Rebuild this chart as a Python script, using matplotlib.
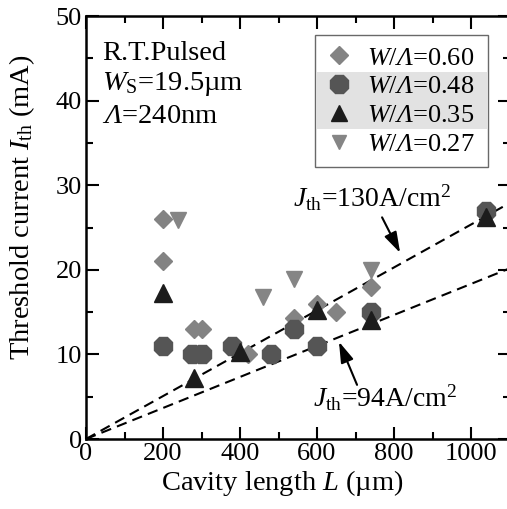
import matplotlib
matplotlib.use('Agg')
import matplotlib.pyplot as plt
from matplotlib.patches import Rectangle
from matplotlib.ticker import MultipleLocator
import numpy as np

plt.rcParams['font.family'] = ['Liberation Serif', 'DejaVu Serif']
plt.rcParams['mathtext.fontset'] = 'custom'
plt.rcParams['mathtext.rm'] = 'Liberation Serif'
plt.rcParams['mathtext.it'] = 'Liberation Serif:italic'
plt.rcParams['mathtext.sf'] = 'Liberation Serif:italic'
plt.rcParams['mathtext.bf'] = 'Liberation Serif:bold'

# ---- data ----
L60 = [200, 200, 280, 300, 420, 540, 600, 650, 740]
I60 = [26.0, 21.0, 13.0, 13.0, 10.1, 14.3, 16.0, 15.0, 18.0]
L48 = [200, 275, 300, 380, 480, 540, 600, 740, 1040]
I48 = [11.0, 10.0, 10.0, 11.0, 10.0, 13.0, 11.0, 15.0, 27.0]
L35 = [200, 280, 400, 600, 740, 1040]
I35 = [17.2, 7.2, 10.3, 15.2, 14.1, 26.3]
L27 = [240, 460, 540, 740]
I27 = [25.9, 16.8, 18.9, 20.0]
Jth = [130, 94]      # A/cm^2
Ws = 19.5            # um
labels = [r'$W/\mathsf{\Lambda}$=0.60', r'$W/\mathsf{\Lambda}$=0.48',
          r'$W/\mathsf{\Lambda}$=0.35', r'$W/\mathsf{\Lambda}$=0.27']

W, H = 507, 509
fig = plt.figure(figsize=(W / 100, H / 100), dpi=100)
ax = fig.add_axes([86 / W, (H - 439) / H, (509.5 - 86) / W, 423 / H])

# dashed current-density lines
Lline = np.array([0, 1100])
for J in Jth:
    ax.plot(Lline, J * Ws * Lline * 1e-5, ls=(0, (5, 3)), color='black', lw=1.5, zorder=1)

h27, = ax.plot(L27, I27, 'v', ms=11, color='#858585', ls='none', zorder=2)
h60, = ax.plot(L60, I60, 'D', ms=9.5, color='#838383', ls='none', zorder=3)
h48, = ax.plot(L48, I48, '8', ms=14, color='#555555', ls='none', zorder=4)
h35, = ax.plot(L35, I35, '^', ms=12.5, color='#1c1c1c', ls='none', zorder=4.5)

ax.set_xlim(0, 1100)
ax.set_ylim(0, 50)
ax.xaxis.set_major_locator(MultipleLocator(200))
ax.xaxis.set_minor_locator(MultipleLocator(100))
ax.yaxis.set_major_locator(MultipleLocator(10))
ax.yaxis.set_minor_locator(MultipleLocator(5))
ax.tick_params(which='both', direction='in', top=True, right=True, width=1.5, labelsize=19)
ax.tick_params(which='major', length=9, pad=3)
ax.tick_params(which='minor', length=5)
for s in ax.spines.values():
    s.set_linewidth(1.8)

ax.set_xlabel(r'Cavity length $L$ (µm)', fontsize=20.5)
ax.xaxis.set_label_coords(0.463, -0.068)
ax.set_ylabel(r'Threshold current $I_{\rm th}$ (mA)', fontsize=20.5)
ax.yaxis.set_label_coords(-0.116, 0.548)

# text block
ax.text(42, 44.8, 'R.T.Pulsed', fontsize=20.5, va='baseline')
ax.text(42, 41.2, r'$W_{\rm S}$=19.5µm', fontsize=20.5, va='baseline')
ax.text(42, 37.4, r'$\mathsf{\Lambda}$=240nm', fontsize=20.5, va='baseline')

# annotations
ax.text(538, 27.4, r'$J_{\rm th}$=130A/cm$^2$', fontsize=20, va='baseline')
ax.annotate('', xy=(816, 22.0), xytext=(769, 26.2),
            arrowprops=dict(arrowstyle='-|>,head_length=0.7,head_width=0.22',
                            color='black', lw=1.5, mutation_scale=18, shrinkA=0, shrinkB=0))
ax.text(590, 3.8, r'$J_{\rm th}$=94A/cm$^2$', fontsize=20, va='baseline')
ax.annotate('', xy=(657, 11.5), xytext=(704, 6.4),
            arrowprops=dict(arrowstyle='-|>,head_length=0.7,head_width=0.22',
                            color='black', lw=1.5, mutation_scale=18, shrinkA=0, shrinkB=0))

# legend
bx = (315 - 86) / 423.5
bw = (488 - 315) / 423.5
by_top = (439 - 35) / 423
leg = ax.legend([h60, h48, h35, h27], labels, loc='upper left',
                bbox_to_anchor=(bx, by_top - 0.4, bw, 0.4), mode='expand',
                fontsize=19, frameon=True, fancybox=False, handlelength=1.0,
                handletextpad=0.55, labelspacing=0.2, borderpad=0.42,
                borderaxespad=0, markerscale=0.95)
leg.get_frame().set_facecolor('none')
leg.get_frame().set_edgecolor('#444444')
leg.get_frame().set_linewidth(1.0)
leg.set_zorder(10)

fig.canvas.draw()
fb = leg.get_frame().get_window_extent()
texts = [t.get_window_extent() for t in leg.get_texts()]
inv = fig.transFigure.inverted()
(x0, y0), (x1, y1) = inv.transform([[fb.x0, fb.y0], [fb.x1, fb.y1]])
fig.patches.append(Rectangle((x0, y0), x1 - x0, y1 - y0, transform=fig.transFigure,
                             facecolor='white', edgecolor='none', zorder=8))
top = (texts[0].y0 + texts[1].y1) / 2 + 1
bot = (texts[2].y0 + texts[3].y1) / 2 + 1
(bx0, by0), (bx1, by1) = inv.transform([[fb.x0 + 1.5, bot], [fb.x1 - 1.5, top]])
fig.patches.append(Rectangle((bx0, by0), bx1 - bx0, by1 - by0, transform=fig.transFigure,
                             facecolor='#e2e2e2', edgecolor='none', zorder=9))
leg.remove()
fig.legends.append(leg)
leg.set_figure(fig)

fig.savefig('out.png', dpi=100)
